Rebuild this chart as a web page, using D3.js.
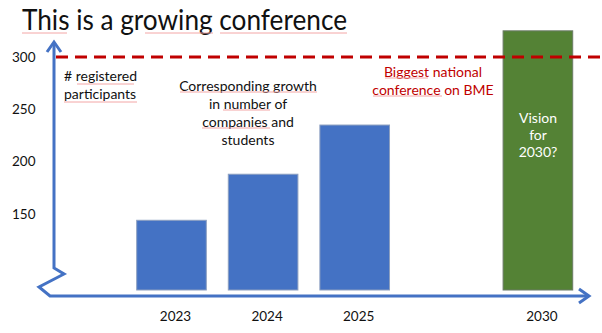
<!DOCTYPE html>
<html>
<head>
<meta charset="utf-8">
<script src="https://cdn.jsdelivr.net/npm/d3@7"></script>
<style>
  html, body { margin: 0; padding: 0; background: #fff; }
  svg { display: block; }
  text { font-family: Lato, "Open Sans", sans-serif; }
</style>
</head>
<body>
<svg id="chart" width="602" height="333"></svg>
<script>
// ---- data ----
const slots = ["2023", "2024", "2025", "", "2030"];
const years = ["2023", "2024", "2025", "2030"];
const participants = [144, 188, 235, 325];
const barKinds = ["actual", "actual", "actual", "vision"];
const yTicks = [150, 200, 250, 300];
const targetValue = 300;
const titleText = "This is a growing conference";
const axisLabel = ["# registered", "participants"];
const growthNote = ["Corresponding growth", "in number of", "companies and", "students"];
const targetNote = ["Biggest national", "conference on BME"];
const visionNote = ["Vision", "for", "2030?"];

// ---- layout ----
const W = 602, H = 333;
const svg = d3.select("#chart");
const blue = "#4472C4", green = "#548235", red = "#C00000";
const baseline = 290;

const x = d3.scaleBand().domain(slots).range([125.7, 583.7])
  .paddingInner(0.24).paddingOuter(0.12);
const y = d3.scaleLinear().domain([150, 300]).range([214, 57]);

// title
svg.append("text").attr("x", 22).attr("y", 30)
  .attr("font-size", 28).attr("fill", "#111")
  .attr("textLength", 325).attr("lengthAdjust", "spacingAndGlyphs")
  .text(titleText);

// spell-check underlines (decorative)
const squig = (x1, x2, yy) => svg.append("line").attr("x1", x1).attr("x2", x2)
  .attr("y1", yy).attr("y2", yy).attr("stroke", "#f3a6a6").attr("stroke-width", 1);
squig(22, 67, 33); squig(145, 213, 33); squig(220, 347, 33);

// bars
svg.append("g").selectAll("rect").data(years).join("rect")
  .attr("x", d => x(d))
  .attr("width", x.bandwidth())
  .attr("y", (d, i) => y(participants[i]))
  .attr("height", (d, i) => baseline - y(participants[i]))
  .attr("fill", (d, i) => barKinds[i] === "vision" ? green : blue)
  .attr("stroke", (d, i) => barKinds[i] === "vision" ? "#6b7b66" : "#8d9fc0")
  .attr("stroke-width", 1);

// y tick labels
svg.append("g").selectAll("text").data(yTicks).join("text")
  .attr("x", 12).attr("y", d => y(d)).attr("dy", "0.35em")
  .attr("font-size", 13.5).attr("fill", "#111")
  .text(d => d);

// x tick labels
svg.append("g").selectAll("text").data(years).join("text")
  .attr("x", d => x(d) + x.bandwidth() / 2 + 4)
  .attr("y", 316).attr("dy", "0.35em")
  .attr("text-anchor", "middle")
  .attr("font-size", 13.5).attr("fill", "#111")
  .text(d => d);

// target dashed line
svg.append("line")
  .attr("x1", 56).attr("x2", W)
  .attr("y1", y(targetValue)).attr("y2", y(targetValue))
  .attr("stroke", red).attr("stroke-width", 3)
  .attr("stroke-dasharray", "12,7");

// axes with broken y
const axisPath = d3.path();
axisPath.moveTo(54, 44);
axisPath.lineTo(54, 268);
axisPath.lineTo(64, 274);
axisPath.lineTo(39, 287);
axisPath.lineTo(50, 296);
axisPath.lineTo(588, 296);
svg.append("path").attr("d", axisPath.toString())
  .attr("fill", "none").attr("stroke", blue).attr("stroke-width", 3)
  .attr("stroke-linejoin", "miter");
// arrowheads
svg.append("path").attr("d", "M47,52 L54,42 L61,52")
  .attr("fill", "none").attr("stroke", blue).attr("stroke-width", 3);
svg.append("path").attr("d", "M579,289 L589,296 L579,303")
  .attr("fill", "none").attr("stroke", blue).attr("stroke-width", 3);

// annotations
const multi = (lines, cx, y0, dy, color, anchor, size) => {
  svg.append("g").selectAll("text").data(lines).join("text")
    .attr("x", cx).attr("y", (d, i) => y0 + i * dy).attr("dy", "0.35em")
    .attr("text-anchor", anchor).attr("font-size", size).attr("fill", color)
    .text(d => d);
};
multi(axisLabel, 64, 76, 18, "#111", "start", 14);
multi(growthNote, 248, 86, 18, "#111", "middle", 14);
multi(targetNote, 433, 72, 18, red, "middle", 14);
multi(visionNote, 538, 118, 17, "#fff", "middle", 14);

// spell-check underlines under annotation words
squig(77, 134, 84); squig(64, 137, 102);
squig(180, 317, 92); squig(223, 270, 110); squig(202, 270, 128);
squig(385, 428, 78); squig(373, 442, 96);
</script>
</body>
</html>
